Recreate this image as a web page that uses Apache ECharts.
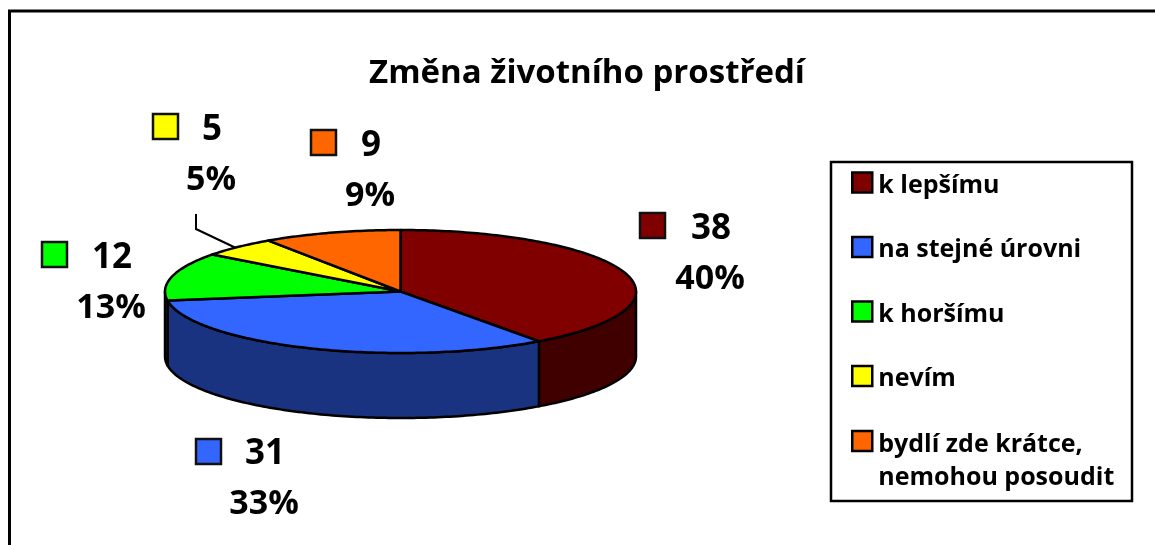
<!DOCTYPE html>
<html><head><meta charset="utf-8">
<script src="https://cdn.jsdelivr.net/npm/echarts@6/dist/echarts.min.js"></script>
<style>html,body{margin:0;padding:0;background:#fff}#c{width:1155px;height:545px}</style>
</head><body><div id="c"></div>
<script>
var titleText = 'Změna životního prostředí';
var categories = ['k lepšímu', 'na stejné úrovni', 'k horšímu', 'nevím', 'bydlí zde krátce, nemohou posoudit'];
var values = [38, 31, 12, 5, 9];
var topColors = ['#800000', '#3366ff', '#00ff00', '#ffff00', '#ff6600'];
var sideColors = ['#400000', '#1a3380', '#008000', '#808000', '#803300'];

// label placement: key box left/top, text centre x, value-line centre y
var labelSpots = [
  {kx: 640, ky: 213, tx: 711, ty: 229},
  {kx: 196, ky: 439, tx: 265, ty: 454},
  {kx: 42, ky: 242, tx: 112, ty: 258},
  {kx: 153, ky: 114, tx: 212, ty: 130},
  {kx: 311, ky: 130, tx: 371, ty: 146}
];
var FONT = '"Open Sans", sans-serif';
var CX = 400.5, CY = 291.5, RX = 235.5, RY = 61.5, DEPTH = 65;
var total = values.reduce(function (a, b) { return a + b; }, 0);

function ptAt(deg, dy) {
  var r = deg * Math.PI / 180;
  return [CX + RX * Math.sin(r), CY - RY * Math.cos(r) + (dy || 0)];
}
function arcPts(a, b, dy) {
  var pts = [], n = Math.max(2, Math.ceil(Math.abs(b - a)));
  for (var i = 0; i <= n; i++) pts.push(ptAt(a + (b - a) * i / n, dy));
  return pts;
}
function makeRender(idx) {
  var before = values.slice(0, idx).reduce(function (a, b) { return a + b; }, 0);
  return function (params, api) {
    var v = api.value(0);
    var a0 = before / total * 360, a1 = (before + v) / total * 360;
    var children = [];
    var s0 = Math.max(a0, 90), s1 = Math.min(a1, 270);
    var lineStyle = {stroke: '#000', lineWidth: 2.5, lineJoin: 'round'};
    if (s1 > s0) {
      children.push({
        type: 'polygon',
        shape: {points: arcPts(s0, s1, 0).concat(arcPts(s1, s0, DEPTH))},
        style: Object.assign({fill: sideColors[idx]}, lineStyle)
      });
    }
    children.push({
      type: 'polygon',
      shape: {points: [[CX, CY]].concat(arcPts(a0, a1, 0))},
      style: Object.assign({fill: topColors[idx]}, lineStyle)
    });
    var s = labelSpots[idx];
    children.push({
      type: 'rect',
      shape: {x: s.kx, y: s.ky, width: 25, height: 25},
      style: {fill: topColors[idx], stroke: '#111', lineWidth: 2.5}
    });
    var pct = Math.round(v / total * 100) + '%';
    children.push({
      type: 'text',
      style: {x: s.tx, y: s.ty, text: String(v), fill: '#000', font: 'bold 35px ' + FONT, textAlign: 'center', textVerticalAlign: 'middle'}
    });
    children.push({
      type: 'text',
      style: {x: s.tx - 1, y: s.ty + 50, text: pct, fill: '#000', font: 'bold 34px ' + FONT, textAlign: 'center', textVerticalAlign: 'middle'}
    });
    if (idx === 3) {
      children.push({
        type: 'polyline',
        shape: {points: [[196, 214], [196, 229], [236, 248]]},
        style: {stroke: '#000', lineWidth: 2, fill: null}
      });
    }
    return {type: 'group', children: children};
  };
}
var series = categories.map(function (name, i) {
  return {
    type: 'custom', name: name, coordinateSystem: 'none',
    itemStyle: {color: topColors[i]},
    data: [[values[i]]],
    renderItem: makeRender(i),
    silent: true, animation: false
  };
});
var legendFont = {fontFamily: FONT, fontWeight: 'bold', fontSize: 25, color: '#000'};
var legendBase = {
  orient: 'vertical', left: 851, itemWidth: 20, itemHeight: 20, itemGap: 33.5, padding: 0,
  icon: 'rect', selectedMode: false,
  itemStyle: {borderColor: '#000', borderWidth: 2.5}
};
var chart = echarts.init(document.getElementById('c'), null, {renderer: 'canvas'});
chart.setOption({
  animation: false,
  backgroundColor: '#fff',
  title: {
    text: titleText, left: 587, top: 74, textAlign: 'center', textVerticalAlign: 'middle',
    padding: 0,
    textStyle: {fontFamily: FONT, fontWeight: 'bold', fontSize: 33, color: '#000'}
  },
  legend: [
    Object.assign({}, legendBase, {
      top: 167, data: categories.slice(0, 4),
      textStyle: Object.assign({}, legendFont, {rich: {a: Object.assign({}, legendFont, {lineHeight: 28, padding: [6, 0, 0, 1]})}}),
      formatter: function (n) { return '{a|' + n + '}'; }
    }),
    Object.assign({}, legendBase, {
      top: 395.5, data: categories.slice(4),
      textStyle: Object.assign({}, legendFont, {rich: {
        b: Object.assign({}, legendFont, {lineHeight: 41}),
        c: Object.assign({}, legendFont, {lineHeight: 33, padding: [0, 0, 0, 1]})
      }}),
      formatter: function (n) {
        return '{b| }\n' + n.split(', ').map(function (part, i, all) {
          return '{c|' + part + (i < all.length - 1 ? ',' : '') + '}';
        }).join('\n');
      }
    })
  ],
  graphic: [
    {type: 'rect', silent: true, z: -1, shape: {x: 9.5, y: 11, width: 1300, height: 700}, style: {fill: 'none', stroke: '#000', lineWidth: 3}},
    {type: 'rect', silent: true, z: -1, shape: {x: 831, y: 162, width: 301, height: 339}, style: {fill: '#fff', stroke: '#000', lineWidth: 2.5}}
  ],
  series: series
});
</script></body></html>
